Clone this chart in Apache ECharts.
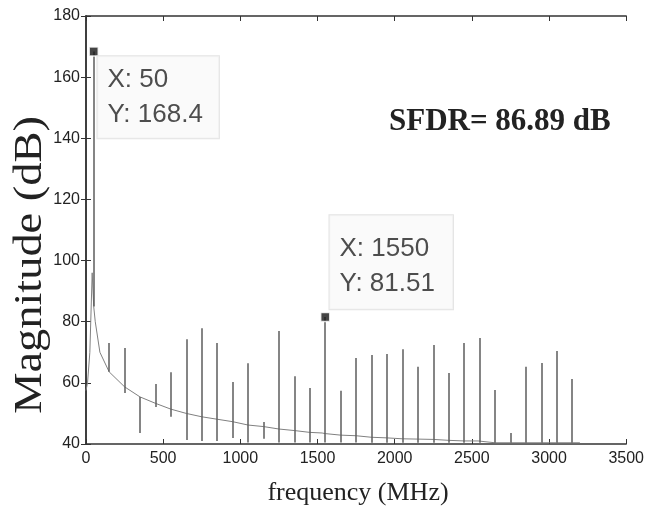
<!DOCTYPE html>
<html>
<head>
<meta charset="utf-8">
<script src="https://cdn.jsdelivr.net/npm/echarts@6/dist/echarts.min.js"></script>
<style>
html,body{margin:0;padding:0;background:#fff;}
#chart{width:647px;height:508px;}
</style>
</head>
<body>
<div id="chart"></div>
<script>
// ---- data ----
const xTicks = [0, 500, 1000, 1500, 2000, 2500, 3000, 3500];
const yTicks = [40, 60, 80, 100, 120, 140, 160, 180];

// harmonic / spur bins (MHz)
const harmonicFreq  = [50, 150, 250, 350, 450, 550, 650, 750, 850, 950, 1050, 1150, 1250, 1350, 1450, 1550,
                       1650, 1750, 1850, 1950, 2050, 2150, 2250, 2350, 2450, 2550, 2650, 2750, 2850, 2950, 3050, 3150];
// top of each spur (dB)
const harmonicPeak  = [168.4, 73, 71.4, 55.4, 59.6, 63.5, 74.3, 77.9, 73, 60.3, 66.4, 47.2, 77, 62.2, 58.3, 81.51,
                       57.4, 68.1, 69.1, 69.4, 71, 65.3, 72.4, 63.2, 73, 74.7, 57.7, 43.6, 65.3, 66.5, 70.4, 61.3];
// bottom of each spur (dB)
const harmonicDip   = [85, 63.6, 56.7, 43.6, 52.1, 48.9, 41.3, 41, 41, 42, 40.5, 41.7, 40.5, 40.5, 40.5, 40.5,
                       40.5, 40.5, 40.4, 40.4, 40.4, 40.4, 40.4, 40.4, 40.4, 40.4, 40.4, 40.4, 40.4, 40.4, 40.4, 40.4];
// noise floor at each spur (dB)
const harmonicFloor = [85, 63.6, 58.7, 55.4, 53.3, 51.4, 50, 48.9, 48.1, 47.3, 46.2, 45.7, 44.9, 44.4, 43.8, 43.4,
                       42.9, 42.7, 42.2, 42, 41.7, 41.6, 41.5, 41.2, 41, 40.5, 40.4, 40.4, 40.4, 40.4, 40.4, 40.4];
// other noise-floor samples (MHz, dB)
const floorFreq = [0, 10, 25, 40, 60, 90, 1530, 1540, 1560, 2540, 3200];
const floorMag  = [57.5, 60, 70, 96, 80, 70, 43.6, 43.9, 43.2, 41, 40.4];

// data tips
const tipFreq = [50, 1550];
const tipMag  = [168.4, 81.51];
const sfdrText = 'SFDR= 86.89 dB';

// ---- build series data ----
const floorPts = [];
for (let i = 0; i < harmonicFreq.length; i++) floorPts.push([harmonicFreq[i], harmonicFloor[i]]);
for (let i = 0; i < floorFreq.length; i++) floorPts.push([floorFreq[i], floorMag[i]]);
floorPts.sort((a, b) => a[0] - b[0]);

const spikeLines = harmonicFreq.map((f, i) => ({coords: [[f, harmonicDip[i]], [f, harmonicPeak[i]]]}));

const chart = echarts.init(document.getElementById('chart'), null, {renderer: 'canvas'});
const axisCol = '#333';
const tickFont = {fontSize: 16, color: '#222', fontFamily: 'Liberation Sans, Arial, sans-serif',
                  formatter: v => String(v)};

chart.setOption({
  animation: false,
  backgroundColor: '#fff',
  grid: {left: 86, right: 19, top: 16, bottom: 64, containLabel: false},
  xAxis: [
    {type: 'value', min: xTicks[0], max: xTicks[xTicks.length - 1], interval: 500,
     axisLine: {show: true, lineStyle: {color: axisCol, width: 1.5}},
     axisTick: {show: true, inside: true, length: 5, lineStyle: {color: axisCol}},
     axisLabel: Object.assign({margin: 7}, tickFont),
     splitLine: {show: false}},
    {type: 'value', position: 'top', min: xTicks[0], max: xTicks[xTicks.length - 1], interval: 500,
     axisLine: {show: true, lineStyle: {color: axisCol, width: 1.5}},
     axisTick: {show: true, inside: true, length: 5, lineStyle: {color: axisCol}},
     axisLabel: {show: false}, splitLine: {show: false}}
  ],
  yAxis: [
    {type: 'value', min: yTicks[0], max: yTicks[yTicks.length - 1], interval: 20,
     axisLine: {show: true, lineStyle: {color: axisCol, width: 1.5}},
     axisTick: {show: true, inside: true, length: 5, lineStyle: {color: axisCol}},
     axisLabel: Object.assign({margin: 6}, tickFont),
     splitLine: {show: false}},
    {type: 'value', position: 'right', min: yTicks[0], max: yTicks[yTicks.length - 1], interval: 20,
     axisLine: {show: true, lineStyle: {color: axisCol, width: 1.5}},
     axisTick: {show: true, inside: true, length: 5, lineStyle: {color: axisCol}},
     axisLabel: {show: false}, splitLine: {show: false}}
  ],
  series: [
    {type: 'line', data: floorPts, symbol: 'none', silent: true,
     lineStyle: {color: '#808080', width: 1}, z: 2},
    {type: 'lines', coordinateSystem: 'cartesian2d', xAxisIndex: 0, yAxisIndex: 0, data: spikeLines,
     silent: true, lineStyle: {color: '#5c5c5c', width: 1.5, opacity: 1}, z: 3},
    {type: 'scatter', symbol: 'rect', symbolSize: 9, z: 5,
     itemStyle: {color: '#151515', borderColor: '#fff', borderWidth: 1.5},
     data: [
       {value: [tipFreq[0], tipMag[0]],
        label: {show: true, position: [9, 10], padding: [6, 16, 6, 10],
                formatter: 'X: ' + tipFreq[0] + '\nY: ' + tipMag[0]}},
       {value: [tipFreq[1], tipMag[1]],
        label: {show: true, position: [9.5, -96.5], padding: [16, 18, 8, 10],
                formatter: 'X: ' + tipFreq[1] + '\nY: ' + tipMag[1]}}
     ],
     label: {fontSize: 26, lineHeight: 35, color: '#222', fontFamily: 'Liberation Sans, Arial, sans-serif',
             backgroundColor: '#f9f9f9', borderColor: '#dcdcdc', borderWidth: 1,
             align: 'left', verticalAlign: 'top'}}
  ],
  graphic: [
    {type: 'text', left: 389, top: 106, style: {text: sfdrText, font: 'bold 31px "Liberation Serif", "Times New Roman", serif', fill: '#222'}},
    {type: 'text', x: 358, y: 493, style: {text: 'frequency (MHz)', font: '26px "Liberation Serif", "Times New Roman", serif',
      fill: '#222', align: 'center', verticalAlign: 'middle'}},
    {type: 'text', x: 30, y: 265, rotation: Math.PI / 2, scaleX: 1.16, style: {text: 'Magnitude (dB)',
      font: '40px "Liberation Serif", "Times New Roman", serif', fill: '#222', align: 'center', verticalAlign: 'middle'}}
  ]
});
</script>
</body>
</html>
